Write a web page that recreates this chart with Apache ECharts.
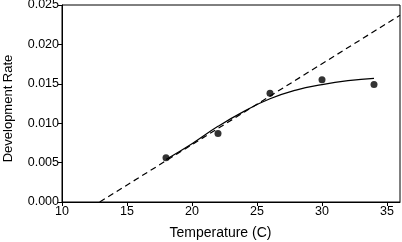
<!DOCTYPE html>
<html>
<head>
<meta charset="utf-8">
<script src="https://cdn.jsdelivr.net/npm/echarts@6/dist/echarts.min.js"></script>
<style>
  html, body { margin: 0; padding: 0; background: #fff; }
  #chart { width: 402px; height: 242px; }
</style>
</head>
<body>
<div id="chart"></div>
<script>
// observed points
var obsTemp = [18, 22, 26, 30, 34]
var obsRate = [0.0056, 0.0087, 0.0138, 0.0155, 0.0149]

// fitted nonlinear curve
var curveTemp = [18, 20, 22, 24, 26, 28, 30, 32, 34]
var curveRate = [0.0054, 0.0074, 0.0096, 0.0115, 0.0131, 0.0142, 0.0149, 0.0154, 0.0157]

// linear fit, end points
var lineTemp = [12.9, 36]
var lineRate = [0, 0.0237]

function pairs (xs, ys) {
  return xs.map(function (x, i) { return [x, ys[i]] })
}

var chart = echarts.init(document.getElementById('chart'))
var fontFamily = 'Liberation Sans, Arial, sans-serif'
var axisFont = { color: '#000', fontSize: 12.5, fontFamily: fontFamily }

var option = {
  animation: false,
  grid: {
    left: 62, right: 2, top: 5, bottom: 40,
    outerBoundsMode: 'none',
    containLabel: false,
    show: true, borderColor: '#000', borderWidth: 1
  },
  xAxis: {
    type: 'value',
    min: 10, max: 36, interval: 5,
    name: 'Temperature (C)',
    nameLocation: 'middle',
    nameGap: 24,
    nameTextStyle: { color: '#000', fontSize: 14, fontFamily: fontFamily, padding: [0, 21, 0, 0] },
    axisLine: { lineStyle: { color: '#000', width: 1 } },
    axisTick: { show: true, length: 4, lineStyle: { color: '#000' } },
    axisLabel: Object.assign({ margin: 3, showMaxLabel: false }, axisFont),
    splitLine: { show: false }
  },
  yAxis: {
    type: 'value',
    min: 0, max: 0.025, interval: 0.005,
    name: 'Development Rate',
    nameLocation: 'middle',
    nameGap: 47,
    nameTextStyle: { color: '#000', fontSize: 13, fontFamily: fontFamily, padding: [0, 10, 0, 0] },
    axisLine: { show: true, lineStyle: { color: '#000', width: 1 } },
    axisTick: { show: true, length: 4, lineStyle: { color: '#000' } },
    axisLabel: Object.assign({ margin: 3, formatter: function (v) { return v.toFixed(3) } }, axisFont),
    splitLine: { show: false }
  },
  series: [
    {
      type: 'line',
      data: pairs(lineTemp, lineRate),
      showSymbol: false,
      lineStyle: { color: '#000', width: 1.2, type: [6, 4] },
      z: 2
    },
    {
      type: 'line',
      data: pairs(curveTemp, curveRate),
      smooth: true,
      showSymbol: false,
      lineStyle: { color: '#000', width: 1.2 },
      z: 3
    },
    {
      type: 'scatter',
      data: pairs(obsTemp, obsRate),
      symbol: 'circle',
      symbolSize: 7,
      itemStyle: { color: '#000' },
      z: 4
    }
  ]
}

chart.setOption(option)
window.addEventListener('resize', function () { chart.resize() })
</script>
</body>
</html>
